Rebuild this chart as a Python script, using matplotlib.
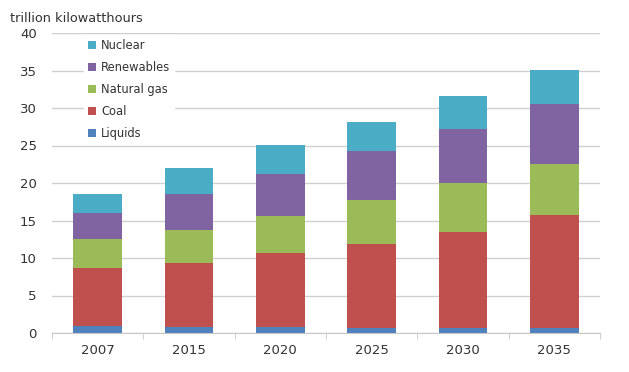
import numpy as np
import matplotlib.pyplot as plt

# world net electricity generation by fuel, trillion kWh
years = ["2007", "2015", "2020", "2025", "2030", "2035"]
liquids = [0.9, 0.8, 0.8, 0.7, 0.7, 0.7]
coal = [7.8, 8.5, 9.9, 11.2, 12.8, 15.1]
natural_gas = [3.8, 4.4, 4.9, 5.8, 6.5, 6.8]
renewables = [3.5, 4.8, 5.6, 6.6, 7.2, 7.9]
nuclear = [2.5, 3.5, 3.8, 3.9, 4.4, 4.6]

series = [
    ("Liquids", liquids, "#4f81bd"),
    ("Coal", coal, "#c0504d"),
    ("Natural gas", natural_gas, "#9bbb59"),
    ("Renewables", renewables, "#8064a2"),
    ("Nuclear", nuclear, "#4bacc6"),
]


def main():
    fig = plt.figure(figsize=(6.29, 3.72), dpi=100)
    ax = fig.add_axes([52 / 629, 1 - 333 / 372, 548 / 629, 300 / 372])

    x = np.arange(len(years))
    bottom = np.zeros(len(years))
    handles = []
    for name, vals, color in series:
        b = ax.bar(x, vals, width=0.53, bottom=bottom, color=color, label=name, zorder=2)
        bottom += np.array(vals)
        handles.append(b)

    ax.set_xlim(-0.5, 5.5)
    ax.set_ylim(0, 40)
    ax.set_yticks(range(0, 41, 5))
    ax.yaxis.grid(True, color="#d0d0d0", linewidth=1)
    ax.set_axisbelow(True)

    for s in ["top", "right", "left"]:
        ax.spines[s].set_visible(False)
    ax.spines["bottom"].set_color("#c8c8c8")

    # category labels centred, tick marks between categories
    ax.set_xticks(x)
    ax.set_xticklabels(years)
    ax.tick_params(axis="x", length=0, pad=8, labelsize=9.5, labelcolor="#333333")
    ax.set_xticks(np.arange(-0.5, 6, 1), minor=True)
    ax.tick_params(axis="x", which="minor", length=4, color="#c8c8c8")
    ax.tick_params(axis="y", length=0, pad=11, labelsize=9.5, labelcolor="#333333")

    leg = ax.legend(handles[::-1], [s[0] for s in series][::-1],
                    loc="upper left", bbox_to_anchor=(0.048, 1.012),
                    frameon=True, fancybox=False, edgecolor="white",
                    facecolor="white", framealpha=1, fontsize=8.3,
                    handlelength=0.7, handleheight=0.7, handletextpad=0.5,
                    labelspacing=0.78, borderpad=0.3)
    for t in leg.get_texts():
        t.set_color("#333333")

    fig.text(10 / 629, 1 - 18 / 372, "trillion kilowatthours", fontsize=9.3,
             color="#333333", va="center", ha="left")

    plt.savefig("out.png", dpi=100)


if __name__ == "__main__":
    main()
